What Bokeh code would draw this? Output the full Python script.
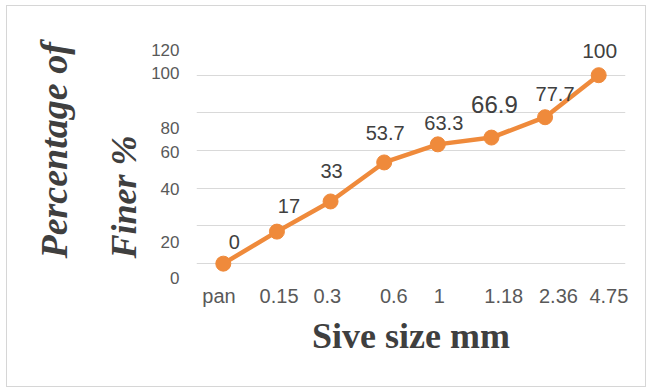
from bokeh.plotting import figure
from bokeh.models import (ColumnDataSource, FixedTicker, CustomJSTickFormatter,
                          Range1d, Title)
from bokeh.core.properties import value
from bokeh.embed import file_html
from bokeh.resources import INLINE

# ---- data ----
sieve_sizes = ["pan", "0.15", "0.3", "0.6", "1", "1.18", "2.36", "4.75"]
percent_finer = [0, 17, 33, 53.7, 63.3, 66.9, 77.7, 100]
value_labels = ["0", "17", "33", "53.7", "63.3", "66.9", "77.7", "100"]
y_tick_labels = ["0", "20", "40", "60", "80", "100", "120"]
y_grid_values = [0, 20, 40, 60, 80, 100, 120]

# ---- layout (label placements as in the reference picture) ----
x_label_pos = [-0.08, 1.04, 1.94, 3.18, 4.03, 5.23, 6.25, 7.19]
y_label_pos = [-7.5, 11.7, 39.8, 59.5, 72.2, 101.4, 113.6]
lbl_dx = [11, 12, 1, 1, 6, 3, 10, 1]
lbl_dy = [-22, -26, -30, -29, -21, -33, -23, -24]
lbl_size = ["20px", "20px", "20px", "20px", "20px", "24px", "20px", "21px"]

ORANGE = "#EF8A3B"
x_idx = list(range(len(sieve_sizes)))

src = ColumnDataSource(dict(x=x_idx, y=percent_finer, t=value_labels,
                            dx=lbl_dx, dy=lbl_dy, fs=lbl_size))

p = figure(width=640, height=382, output_backend="svg", toolbar_location=None,
           x_range=Range1d(-0.5, 7.5), y_range=Range1d(-10, 120),
           min_border_left=189, min_border_right=22, min_border_top=31,
           min_border_bottom=106)
p.styles = {"margin-left": "6px", "margin-top": "5px",
            "border": "1px solid #d6d6d6", "box-sizing": "border-box"}
p.outline_line_color = None
p.background_fill_color = "white"
p.border_fill_color = "white"

p.line("x", "y", source=src, line_color=ORANGE, line_width=4.5)
p.scatter("x", "y", source=src, size=15, fill_color=ORANGE, line_color=ORANGE)
p.text("x", "y", text="t", source=src, x_offset="dx", y_offset="dy",
       text_font_size="fs", text_align="center", text_baseline="middle",
       text_color="#404040", text_font=value("Liberation Sans"))

# grid
p.xgrid.visible = False
p.ygrid.ticker = FixedTicker(ticks=y_grid_values)
p.ygrid.grid_line_color = "#d9d9d9"
p.ygrid.grid_line_width = 1

fmt_code = "const i = pos.findIndex(t => Math.abs(t - tick) < 1e-6); return i >= 0 ? labs[i] : '';"

# y axis
p.yaxis.ticker = FixedTicker(ticks=y_label_pos)
p.yaxis.formatter = CustomJSTickFormatter(args=dict(pos=y_label_pos, labs=y_tick_labels),
                                          code=fmt_code)
p.yaxis.axis_line_color = None
p.yaxis.major_tick_line_color = None
p.yaxis.minor_tick_line_color = None
p.yaxis.major_tick_out = 0
p.yaxis.major_label_text_font = "Liberation Sans"
p.yaxis.major_label_text_font_size = "17px"
p.yaxis.major_label_text_color = "#595959"
p.yaxis.major_label_standoff = 17

# x axis
p.xaxis.ticker = FixedTicker(ticks=x_label_pos)
p.xaxis.formatter = CustomJSTickFormatter(args=dict(pos=x_label_pos, labs=sieve_sizes),
                                          code=fmt_code)
p.xaxis.axis_line_color = None
p.xaxis.major_tick_line_color = None
p.xaxis.minor_tick_line_color = None
p.xaxis.major_tick_out = 0
p.xaxis.major_label_text_font = "Liberation Sans"
p.xaxis.major_label_text_font_size = "20px"
p.xaxis.major_label_text_color = "#595959"
p.xaxis.major_label_standoff = 2
p.xaxis.axis_label = "Sive size mm"
p.xaxis.axis_label_text_font = "Liberation Serif"
p.xaxis.axis_label_text_font_style = "bold"
p.xaxis.axis_label_text_font_size = "36px"
p.xaxis.axis_label_text_color = "#3f3f3f"
p.xaxis.axis_label_standoff = 6

# y-axis title (two rotated lines)
p.add_layout(Title(text="Finer %", align="left", offset=24, standoff=9,
                   text_font="Liberation Serif", text_font_style="bold italic",
                   text_font_size="36px", text_color="#3f3f3f"), "left")
p.add_layout(Title(text="Percentage of", align="left", offset=24, standoff=45,
                   text_font="Liberation Serif", text_font_style="bold italic",
                   text_font_size="38px", text_color="#3f3f3f"), "left")

open("out.html", "w").write(file_html(p, INLINE))
